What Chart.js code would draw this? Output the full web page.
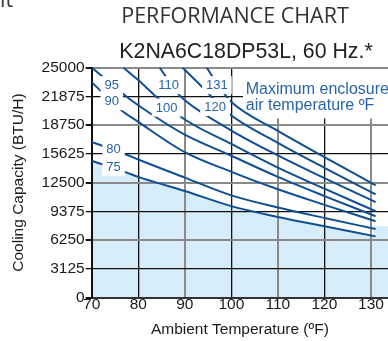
<!DOCTYPE html>
<html>
<head>
<meta charset="utf-8">
<script src="https://cdn.jsdelivr.net/npm/chart.js@4/dist/chart.umd.min.js"></script>
<style>
  html, body { margin: 0; padding: 0; background: #fff; }
  canvas { display: block; }
</style>
</head>
<body>
<canvas id="perfChart" width="388" height="341"></canvas>
<script>
// Tick values
const xTicks = [70, 80, 90, 100, 110, 120, 130];
const yTicks = [0, 3125, 6250, 9375, 12500, 15625, 18750, 21875, 25000];

// One curve per maximum enclosure air temperature (ºF)
const curveNames = ['131', '120', '110', '100', '95', '90', '80', '75'];

// Ambient temperature (ºF) / cooling capacity (BTU/H)
const ambient131 = [94.7, 97.9, 100, 110, 120, 131];
const capacity131 = [25000, 22535, 21253, 18120, 15271, 12204];
const ambient120 = [89.5, 94.4, 99, 110, 120, 131];
const capacity120 = [25000, 22535, 20157, 16805, 14099, 11218];
const ambient110 = [84.6, 88.2, 90, 100, 110, 120, 131];
const capacity110 = [25000, 22349, 21440, 18153, 15447, 12971, 10374];
const ambient100 = [76.8, 80, 84.3, 90, 100, 110, 120, 131];
const capacity100 = [25000, 23630, 21625, 19350, 16695, 14132, 11831, 9388];
const ambient95 = [70, 77.1, 80, 90, 100, 110, 120, 131];
const capacity95 = [25000, 21990, 20900, 17700, 15413, 13113, 11032, 8840];
const ambient90 = [70, 76, 80, 90, 100, 110, 120, 131];
const capacity90 = [23411, 20500, 19100, 15800, 13661, 11765, 10079, 8293];
const ambient80 = [70, 77.5, 80, 90, 100, 110, 120, 131];
const capacity80 = [16900, 15523, 15000, 13037, 11108, 9794, 8655, 7449];
const ambient75 = [70, 77.5, 80, 90, 100, 110, 120, 131];
const capacity75 = [14866, 13584, 13113, 11580, 9936, 8764, 7745, 6650];

// shaded block right of the curve ends
const shadeAmbient = [130.5, 136];
const shadeCapacity = [7745, 7745];

// where the curve name labels sit (ambient, capacity)
const labelAmbient = [96.9, 96.5, 86.5, 86.1, 74.3, 74.3, 74.7, 74.7];
const labelCapacity = [23082, 20705, 23082, 20640, 23082, 21330, 16148, 14209];

const curveAmbient = [ambient131, ambient120, ambient110, ambient100, ambient95, ambient90, ambient80, ambient75];
const curveCapacity = [capacity131, capacity120, capacity110, capacity100, capacity95, capacity90, capacity80, capacity75];

const LINE_BLUE = '#0f4f93';
const TEXT_BLUE = '#2a64a8';
const SHADE = '#d6edf9';
const SANS = '"Liberation Sans", Arial, sans-serif';

function toPoints(xs, ys) {
    return xs.map((v, i) => ({ x: v, y: ys[i] }));
}

const datasets = curveNames.map((name, i) => ({
    label: name,
    data: toPoints(curveAmbient[i], curveCapacity[i]),
    borderColor: LINE_BLUE,
    borderWidth: 2,
    pointRadius: 0,
    cubicInterpolationMode: 'monotone',
    fill: name === '75' ? 'origin' : false,
    backgroundColor: SHADE
}));

datasets.push({
    label: 'shade',
    data: toPoints(shadeAmbient, shadeCapacity),
    borderWidth: 0,
    borderColor: 'rgba(0,0,0,0)',
    pointRadius: 0,
    fill: 'origin',
    backgroundColor: SHADE
});

// Text and label boxes drawn on top of the chart
const decorPlugin = {
    id: 'decor',
    beforeDatasetsDraw(chart) {
        const { ctx, chartArea, scales: { x, y } } = chart;
        // white panel behind the note hides the grid there
        const left = x.getPixelForValue(102.5);
        const top = y.getPixelForValue(25000) + 1.5;
        const bottom = y.getPixelForValue(19467);
        ctx.save();
        ctx.fillStyle = '#fff';
        ctx.fillRect(left, top, chartArea.right - left + 10, bottom - top);
        ctx.restore();
    },
    afterDatasetsDraw(chart) {
        const { ctx, scales: { x, y } } = chart;
        ctx.save();
        ctx.font = '13px ' + SANS;
        ctx.textAlign = 'center';
        ctx.textBaseline = 'middle';
        curveNames.forEach((name, i) => {
            const px = x.getPixelForValue(labelAmbient[i]);
            const py = y.getPixelForValue(labelCapacity[i]);
            const w = ctx.measureText(name).width + 8;
            ctx.fillStyle = '#fff';
            ctx.fillRect(px - w / 2, py - 9, w, 18);
            ctx.fillStyle = TEXT_BLUE;
            ctx.fillText(name, px, py + 0.5);
        });

        // note
        ctx.font = '16px ' + SANS;
        ctx.textAlign = 'left';
        ctx.textBaseline = 'alphabetic';
        ctx.fillStyle = TEXT_BLUE;
        const nx = x.getPixelForValue(103.1);
        ctx.fillText('Maximum enclosure', nx, y.getPixelForValue(22173));
        ctx.fillText('air temperature ºF', nx, y.getPixelForValue(20343));
        ctx.restore();
    },
    afterDraw(chart) {
        const { ctx } = chart;
        ctx.save();
        ctx.fillStyle = '#333';
        ctx.textBaseline = 'alphabetic';
        ctx.font = '21.5px "Open Sans", sans-serif';
        ctx.textAlign = 'left';
        ctx.fillText('it', 0, 7);
        ctx.textAlign = 'center';
        ctx.fillText('PERFORMANCE CHART', 235, 23.3);
        ctx.fillStyle = '#222';
        ctx.font = '21.3px ' + SANS;
        ctx.fillText('K2NA6C18DP53L, 60 Hz.*', 246, 58.3);
        ctx.restore();
    }
};

new Chart(document.getElementById('perfChart'), {
    type: 'line',
    data: { datasets: datasets },
    options: {
        responsive: false,
        animation: false,
        devicePixelRatio: 1,
        layout: { padding: { top: 67.5, right: 0, left: 0, bottom: 0 } },
        plugins: {
            legend: { display: false },
            tooltip: { enabled: false },
            title: { display: false },
            filler: { drawTime: 'beforeDraw' }
        },
        scales: {
            x: {
                type: 'linear',
                min: 70,
                max: 133.66,
                afterBuildTicks: axis => { axis.ticks = xTicks.map(v => ({ value: v })); },
                ticks: {
                    color: '#1a1a1a',
                    font: { family: SANS, size: 15.5 },
                    padding: -2,
                    maxRotation: 0,
                    callback: v => String(v)
                },
                grid: {
                    drawTicks: false,
                    color: ctx => (ctx.tick && [90, 110, 130].includes(ctx.tick.value)) ? '#8a8a8a' : '#111',
                    lineWidth: ctx => (ctx.tick && [90, 110, 130].includes(ctx.tick.value)) ? 2 : 1.3
                },
                border: { color: '#333', width: 2 },
                title: {
                    display: true,
                    text: 'Ambient Temperature (ºF)',
                    color: '#1a1a1a',
                    font: { family: SANS, size: 15.5 },
                    padding: { top: 8.2, bottom: 2 }
                }
            },
            y: {
                min: 0,
                max: 25000,
                afterBuildTicks: axis => { axis.ticks = yTicks.map(v => ({ value: v })); },
                ticks: {
                    color: '#1a1a1a',
                    font: { family: SANS, size: 15.5 },
                    padding: 1,
                    callback: v => String(v)
                },
                grid: {
                    tickLength: 6,
                    tickColor: '#111',
                    color: ctx => (ctx.tick && ctx.tick.value % 6250 === 0) ? '#8a8a8a' : '#111',
                    lineWidth: ctx => (ctx.tick && ctx.tick.value % 6250 === 0) ? 2 : 1.3
                },
                border: { color: '#111', width: 2 },
                title: {
                    display: true,
                    text: 'Cooling Capacity (BTU/H)',
                    color: '#1a1a1a',
                    font: { family: SANS, size: 15.5 },
                    padding: { top: 9, bottom: 13 }
                }
            }
        }
    },
    plugins: [decorPlugin]
});
</script>
</body>
</html>
